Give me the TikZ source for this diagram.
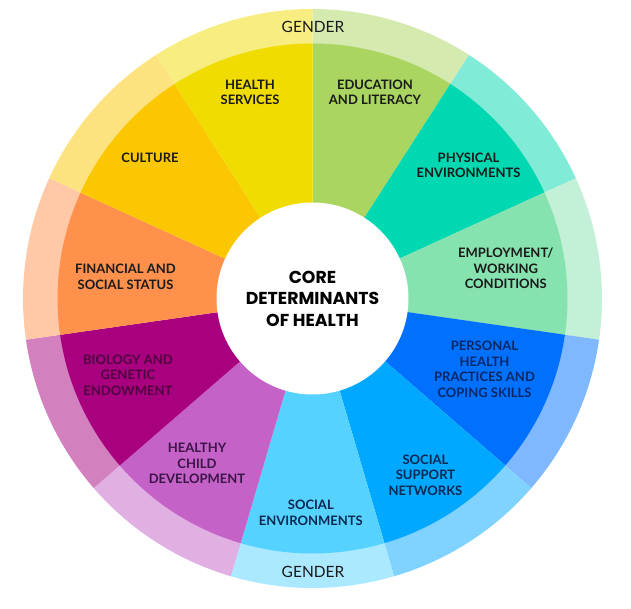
\documentclass[tikz,border=0pt]{standalone}
\usepackage{fontspec}
\setmainfont{Lato}
\newfontfamily\corefont{Poppins}
\usepackage{tikz}
\usetikzlibrary{positioning}
\definecolor{edugreen}{RGB}{169,213,96}
\definecolor{physteal}{RGB}{0,216,178}
\definecolor{empmint}{RGB}{134,226,174}
\definecolor{persblue}{RGB}{0,112,255}
\definecolor{suppblue}{RGB}{0,168,255}
\definecolor{envsky}{RGB}{85,210,255}
\definecolor{childviolet}{RGB}{196,98,200}
\definecolor{biomagenta}{RGB}{168,0,126}
\definecolor{finorange}{RGB}{255,145,77}
\definecolor{cultamber}{RGB}{251,199,0}
\definecolor{servyellow}{RGB}{240,220,0}
\definecolor{txtdark}{RGB}{26,26,26}
\definecolor{txtplum}{RGB}{80,0,64}
\definecolor{txtgrape}{RGB}{60,20,70}
\definecolor{txtnavy}{RGB}{10,40,100}
\definecolor{txtdeep}{RGB}{10,40,80}
\tikzset{
  lbl/.style={align=center, text=txtdark, inner sep=0pt,
    font=\fontsize{13}{15.5}\selectfont\bfseries},
  genderlbl/.style={text=txtdark, inner sep=0pt, font=\fontsize{15.5}{18}\selectfont},
  hub/.style={circle, fill=white, minimum size=192pt, inner sep=0pt, align=center,
    font=\corefont\fontsize{17.3}{21.5}\selectfont\bfseries}
}
\begin{document}
\begin{tikzpicture}[x=1pt, y=1pt]
\useasboundingbox (-312.5,-310.5) rectangle (318.5,298.5);
%--- wheel: outer tinted ring, then inner sectors ---
\foreach \clr [count=\i from 0, evaluate=\i as \aa using 90-\i*360/11,
  evaluate=\i as \ab using 90-(\i+1)*360/11] in
  {edugreen, physteal, empmint, persblue, suppblue, envsky,
   childviolet, biomagenta, finorange, cultamber, servyellow}
{
  \fill[\clr!50!white] (0,0) -- (\aa:289.5) arc[start angle=\aa, end angle=\ab, radius=289.5] -- cycle;
  \fill[\clr] (0,0) -- (\aa:255) arc[start angle=\aa, end angle=\ab, radius=255] -- cycle;
}

%--- centre ---
\node[hub] (core) at (0,0) {CORE\\DETERMINANTS\\OF HEALTH};

%--- sector labels ---
\node[lbl] (serv)  at (-62.5,206)  {HEALTH\\SERVICES};
\node[lbl] (edu)   at (62.5,206)   {EDUCATION\\AND LITERACY};
\node[lbl] (cult)  at (-162.5,141) {CULTURE};
\node[lbl] (phys)  at (156,133.3)  {PHYSICAL\\ENVIRONMENTS};
\node[lbl] (fin)   at (-187,21.8)  {FINANCIAL AND\\SOCIAL STATUS};
\node[lbl] (emp)   at (193.3,30)   {EMPLOYMENT/\\WORKING\\CONDITIONS};
\node[lbl, text=txtplum]  (bio)   at (-184.6,-76.5) {BIOLOGY AND\\GENETIC\\ENDOWMENT};
\node[lbl, text=txtnavy]  (pers)  at (172,-71)      {PERSONAL\\HEALTH\\PRACTICES AND\\COPING SKILLS};
\node[lbl, text=txtgrape] (child) at (-115.5,-165)  {HEALTHY\\CHILD\\DEVELOPMENT};
\node[lbl, text=txtdeep]  (supp)  at (113,-176.4)   {SOCIAL\\SUPPORT\\NETWORKS};
\node[lbl, text=txtdeep]  (env)   at (-1.7,-214.5)  {SOCIAL\\ENVIRONMENTS};

%--- gender ring ---
\node[genderlbl] (gtop) at (0.5,271.3)  {GENDER};
\node[genderlbl] (gbot) at (0.5,-273.7) {GENDER};
\end{tikzpicture}
\end{document}
